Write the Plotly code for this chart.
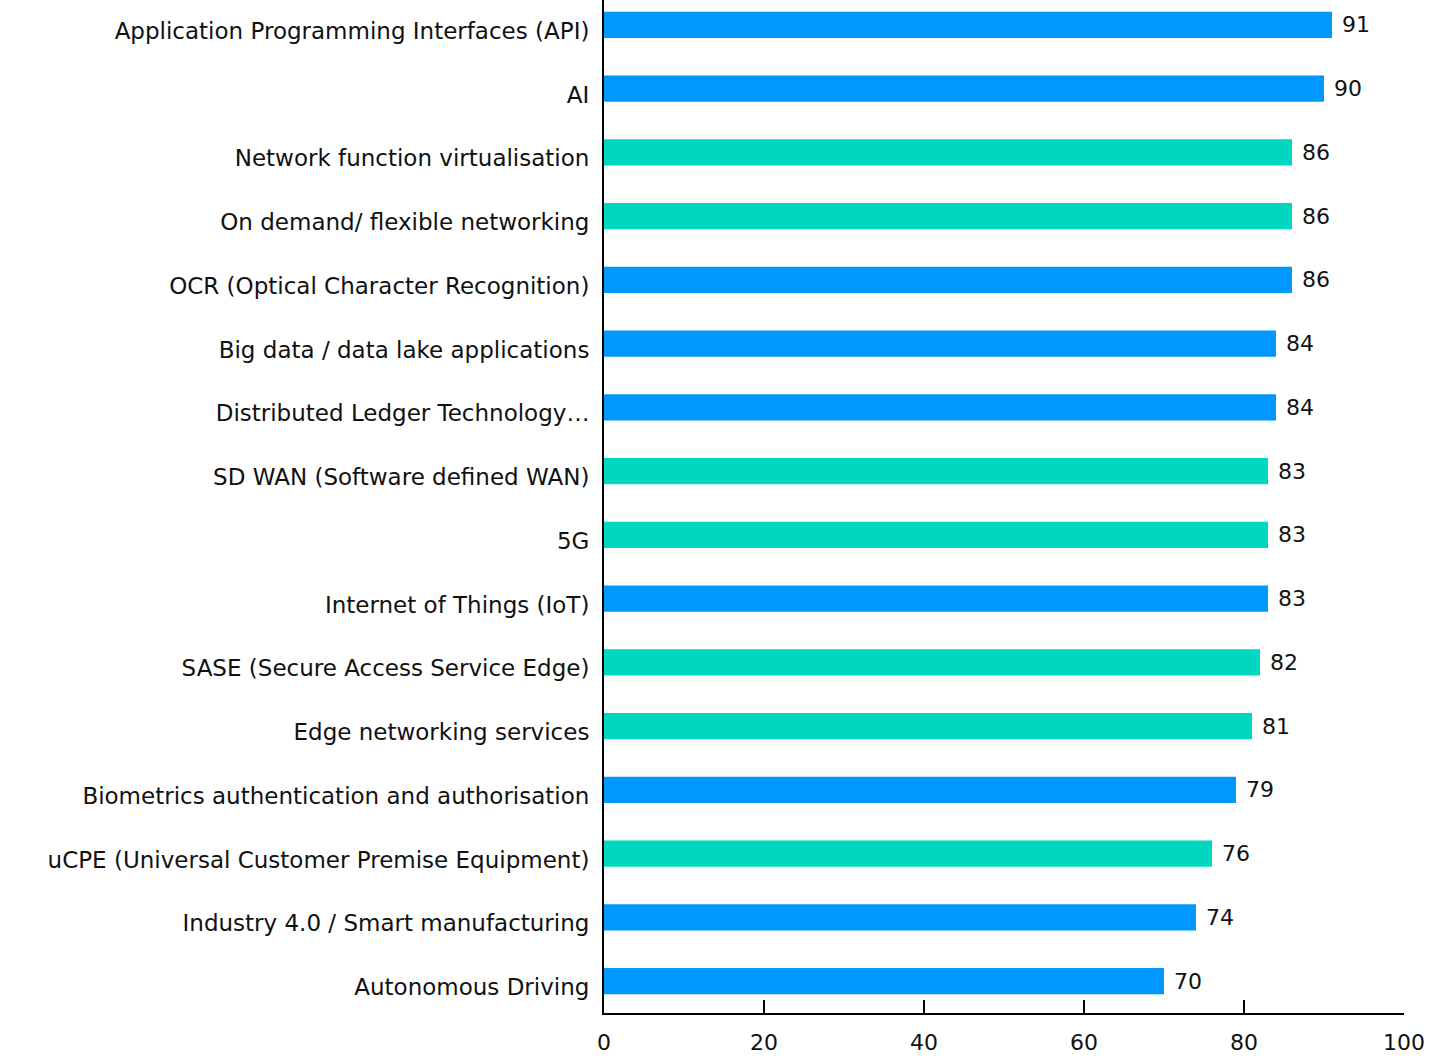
import plotly.graph_objects as go

categories = [
    "Application Programming Interfaces (API)",
    "AI",
    "Network function virtualisation",
    "On demand/ flexible networking",
    "OCR (Optical Character Recognition)",
    "Big data / data lake applications",
    "Distributed Ledger Technology…",
    "SD WAN (Software defined WAN)",
    "5G",
    "Internet of Things (IoT)",
    "SASE (Secure Access Service Edge)",
    "Edge networking services",
    "Biometrics authentication and authorisation",
    "uCPE (Universal Customer Premise Equipment)",
    "Industry 4.0 / Smart manufacturing",
    "Autonomous Driving",
]
values = [91, 90, 86, 86, 86, 84, 84, 83, 83, 83, 82, 81, 79, 76, 74, 70]
groups = ["blue", "blue", "teal", "teal", "blue", "blue", "blue", "teal",
          "teal", "blue", "teal", "teal", "blue", "teal", "blue", "blue"]
x_ticks = [0, 20, 40, 60, 80, 100]

palette = {"blue": "#0098FF", "teal": "#00D7BE"}

cats = categories[::-1]
vals = values[::-1]
cols = [palette[g] for g in groups[::-1]]

FONT = "DejaVu Sans, sans-serif"

fig = go.Figure(go.Bar(
    y=cats, x=vals, orientation="h",
    marker=dict(color=cols, line=dict(width=0)),
    width=0.41,
    text=[f" {v}" for v in vals], textposition="outside",
    textfont=dict(size=22, color="#111111", family=FONT),
    constraintext="none",
    cliponaxis=False,
))

fig.update_layout(
    width=1450, height=1056,
    margin=dict(l=604, r=46, t=0, b=43),
    plot_bgcolor="white", paper_bgcolor="white",
    font=dict(family=FONT, size=22, color="#111111"),
    showlegend=False,
)
fig.update_xaxes(
    range=[0, 100], tickvals=x_ticks, showgrid=False, zeroline=False,
    showline=True, linecolor="black", linewidth=2,
    ticks="inside", ticklen=13, tickwidth=2, tickcolor="black",
    ticklabelstandoff=9, tickfont=dict(size=22),
)
fig.update_yaxes(
    type="category", categoryorder="array", categoryarray=cats,
    range=[-0.5, 15.39], showgrid=False, zeroline=False,
    showline=True, linecolor="black", linewidth=2, ticks="",
    ticklabelstandoff=8, ticklabelshift=6, tickfont=dict(size=23),
)

fig.write_html("out.html", config={"displayModeBar": False},
               post_script="document.body.style.margin='0';")
